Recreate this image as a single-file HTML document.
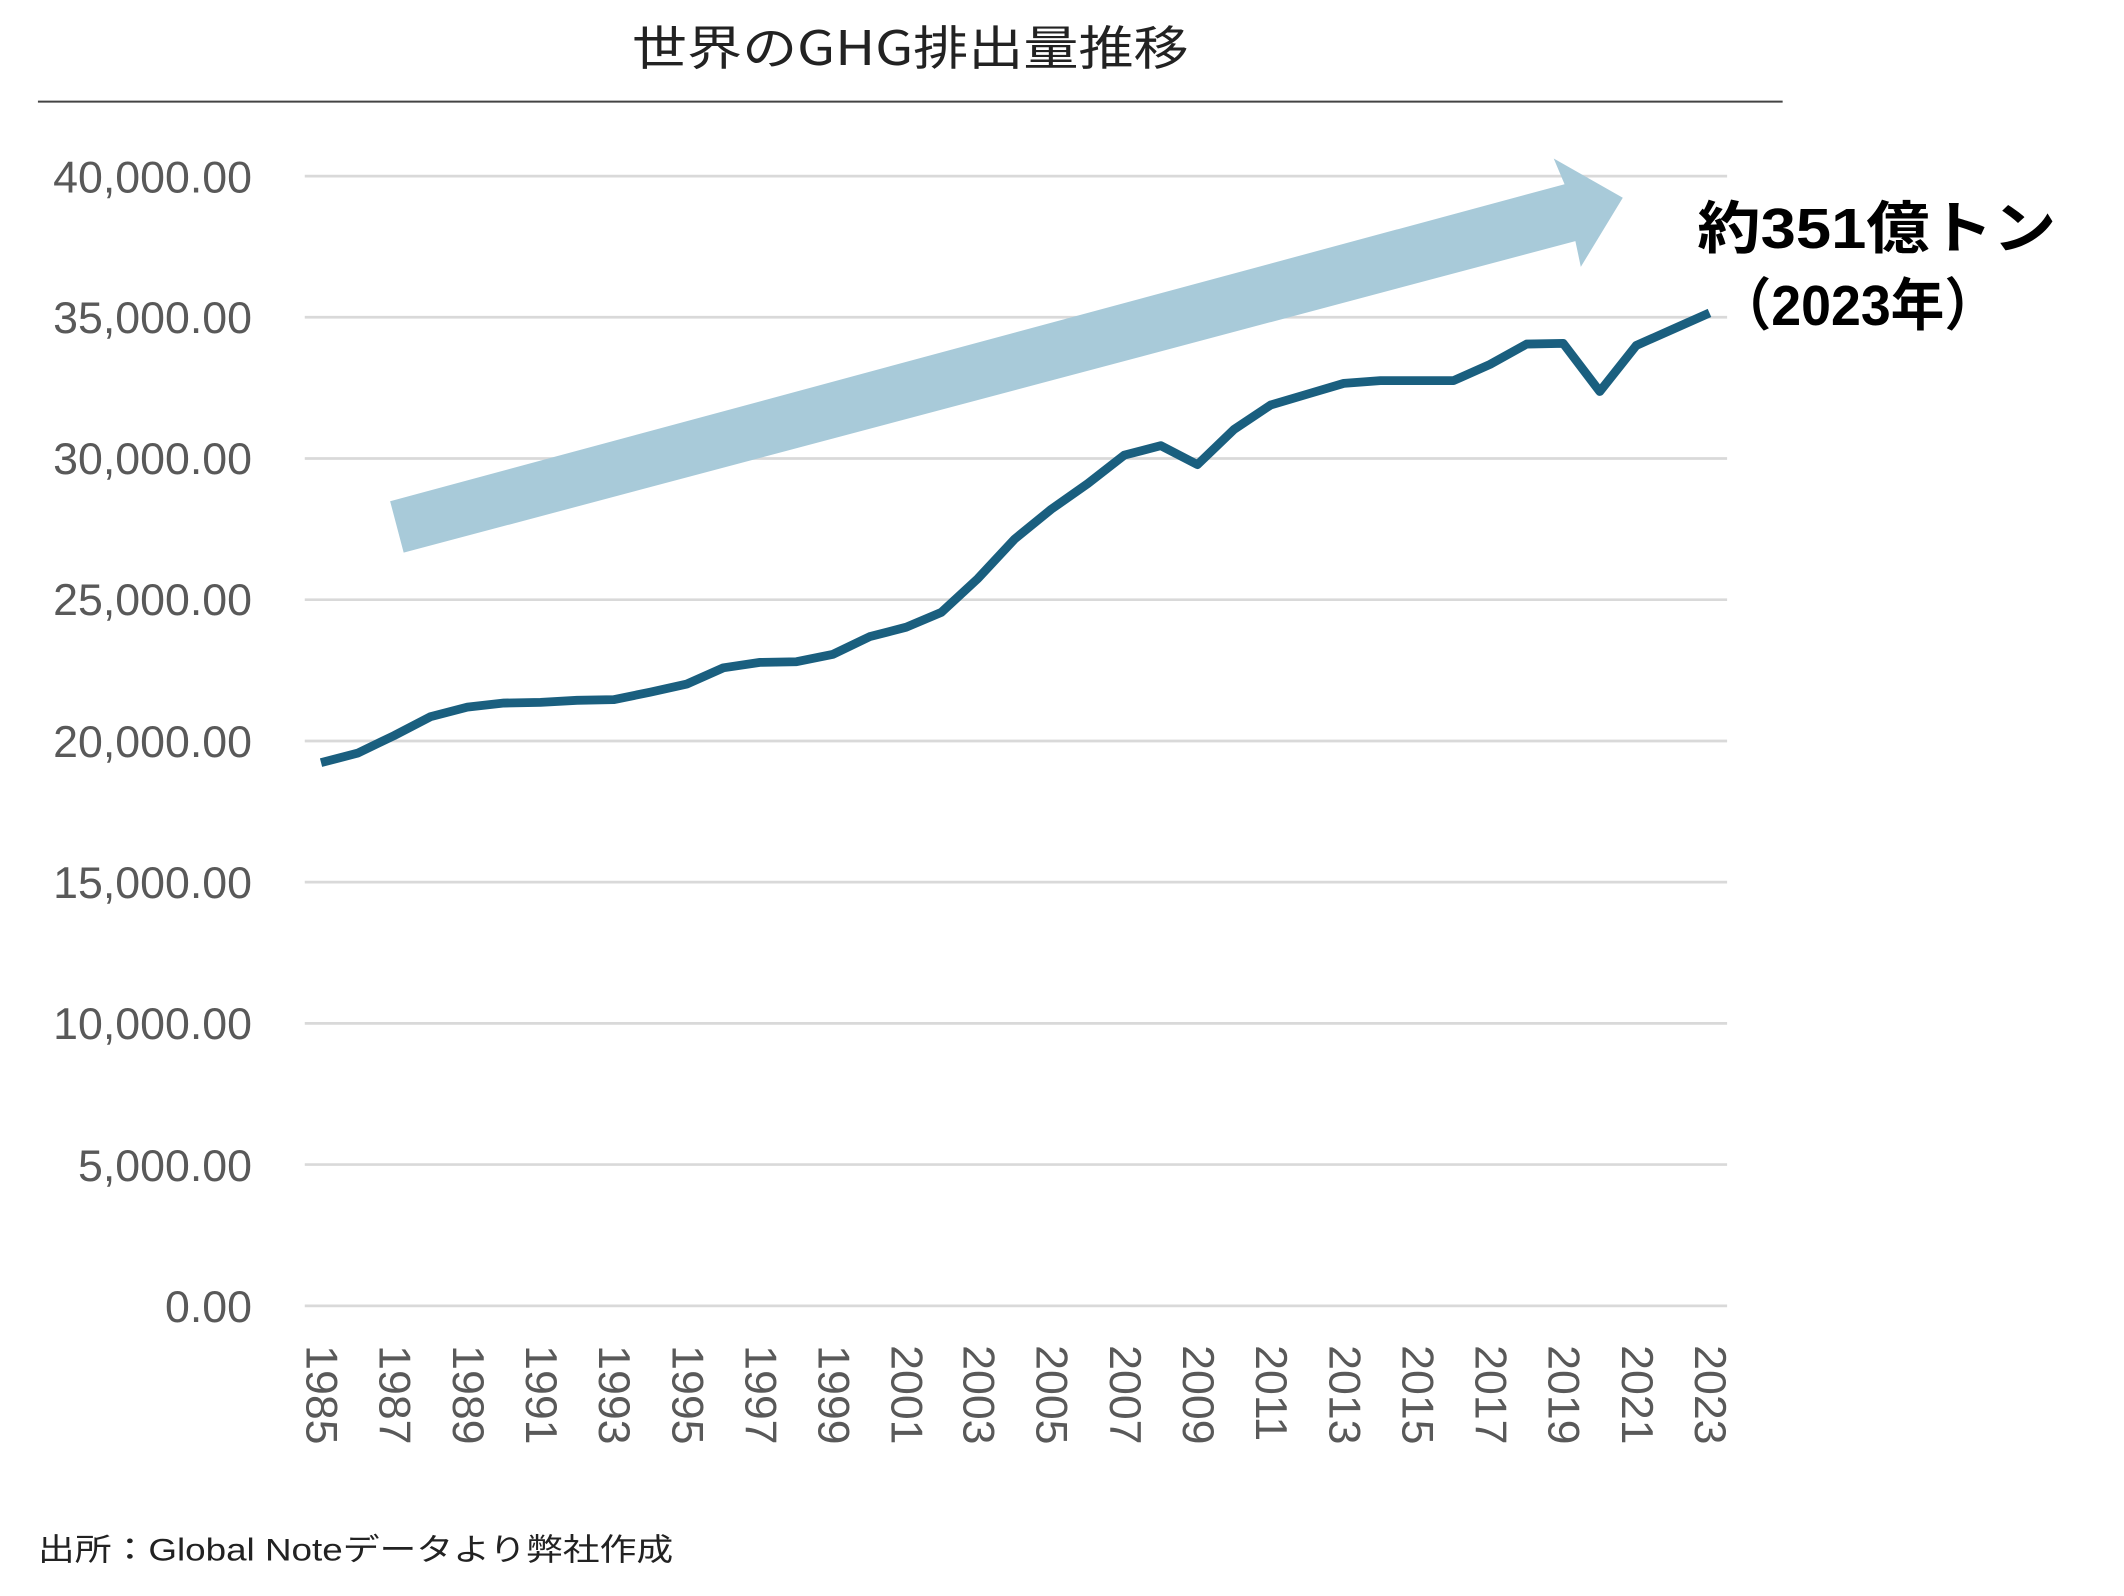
<!DOCTYPE html>
<html><head><meta charset="utf-8"><style>
html,body{margin:0;padding:0;background:#fff;}
svg{display:block;}
text{font-family:"Liberation Sans","Noto Sans CJK JP",sans-serif;}
</style></head><body>
<svg width="2124" height="1596" viewBox="0 0 1568 1178.2" preserveAspectRatio="none" xmlns="http://www.w3.org/2000/svg">
<text x="672" y="48" text-anchor="middle" font-size="35" fill="#222" style="font-family:'Noto Sans CJK JP',sans-serif" textLength="411" lengthAdjust="spacingAndGlyphs">世界のGHG排出量推移</text>
<line x1="28" y1="75" x2="1316" y2="75" stroke="#444" stroke-width="1.5"/>
<g stroke="#d9d9d9" stroke-width="2">
<line x1="225" y1="130" x2="1275" y2="130"/><line x1="225" y1="234.2" x2="1275" y2="234.2"/>
<line x1="225" y1="338.5" x2="1275" y2="338.5"/><line x1="225" y1="442.7" x2="1275" y2="442.7"/>
<line x1="225" y1="547" x2="1275" y2="547"/><line x1="225" y1="651.2" x2="1275" y2="651.2"/>
<line x1="225" y1="755.5" x2="1275" y2="755.5"/><line x1="225" y1="859.7" x2="1275" y2="859.7"/>
<line x1="225" y1="964" x2="1275" y2="964"/>
</g>
<g font-size="33" fill="#595959" text-anchor="end">
<text x="186" y="142">40,000.00</text><text x="186" y="246">35,000.00</text>
<text x="186" y="350">30,000.00</text><text x="186" y="454">25,000.00</text>
<text x="186" y="559">20,000.00</text><text x="186" y="663">15,000.00</text>
<text x="186" y="767">10,000.00</text><text x="186" y="872">5,000.00</text>
<text x="186" y="976">0.00</text>
</g>
<g font-size="33" fill="#595959" dominant-baseline="central">
<text transform="translate(237,993) rotate(90)">1985</text>
<text transform="translate(291,993) rotate(90)">1987</text>
<text transform="translate(345,993) rotate(90)">1989</text>
<text transform="translate(399,993) rotate(90)">1991</text>
<text transform="translate(453,993) rotate(90)">1993</text>
<text transform="translate(507,993) rotate(90)">1995</text>
<text transform="translate(561,993) rotate(90)">1997</text>
<text transform="translate(615,993) rotate(90)">1999</text>
<text transform="translate(669,993) rotate(90)">2001</text>
<text transform="translate(722,993) rotate(90)">2003</text>
<text transform="translate(776,993) rotate(90)">2005</text>
<text transform="translate(830,993) rotate(90)">2007</text>
<text transform="translate(884,993) rotate(90)">2009</text>
<text transform="translate(938,993) rotate(90)">2011</text>
<text transform="translate(992,993) rotate(90)">2013</text>
<text transform="translate(1046,993) rotate(90)">2015</text>
<text transform="translate(1100,993) rotate(90)">2017</text>
<text transform="translate(1154,993) rotate(90)">2019</text>
<text transform="translate(1208,993) rotate(90)">2021</text>
<text transform="translate(1262,993) rotate(90)">2023</text>
</g>
<polygon points="288,370 1155,136 1147,117 1198,146 1167,197 1163,178 298,408" fill="#a8cad9"/>
<polyline fill="none" stroke="#1a5f7f" stroke-width="6.5" stroke-linejoin="round" points="237,563 264,556 291,543 318,529 345,522 372,519 399,518.5 426,517 453,516.5 480,511 507,505 534,493 561,489 588,488.5 615,483 642,470 669,463 695,452 722,427 749,398 776,376 803,357 830,336 857,329 884,343 911,317 938,299 965,291 992,283 1019,281 1046,281 1073,281 1100,269 1127,254 1154,253.5 1181,289 1208,255 1235,243 1262,231"/>
<text x="1253" y="183" font-size="42" font-weight="bold" fill="#000" textLength="265" lengthAdjust="spacingAndGlyphs">約351億トン</text>
<text x="1268" y="240" font-size="42" font-weight="bold" fill="#000" textLength="207" lengthAdjust="spacingAndGlyphs">（2023年）</text>
<text x="28" y="1152" font-size="23" fill="#222" textLength="469" lengthAdjust="spacingAndGlyphs">出所：Global Noteデータより弊社作成</text>
</svg>
</body></html>
